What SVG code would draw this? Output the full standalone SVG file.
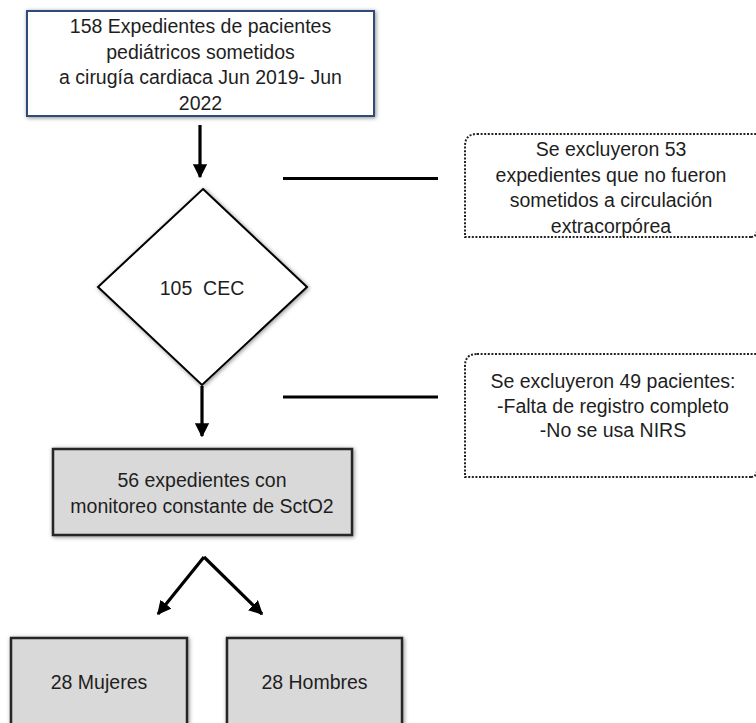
<svg xmlns="http://www.w3.org/2000/svg" width="756" height="723" viewBox="0 0 756 723">
<style>
text{font-family:"Liberation Sans",Arial,sans-serif;font-size:19.5px;fill:#1e1e1e;text-anchor:middle}
.conn{stroke:#000;stroke-width:3.2;fill:none}
.gray{fill:#D9D9D9;stroke:#262626;stroke-width:2.5}
.dot{fill:none;stroke:#222;stroke-width:2;stroke-dasharray:2 1.6}
</style>
<defs>
<filter id="sh" x="-10%" y="-10%" width="120%" height="120%">
<feDropShadow dx="1" dy="1" stdDeviation="2" flood-color="#000" flood-opacity="0.45"/>
</filter>
<marker id="ah" viewBox="0 0 10 10" refX="9" refY="5" markerWidth="4.4" markerHeight="4.4" markerUnits="strokeWidth" orient="auto">
<path d="M0,0 L10,5 L0,10 Z" fill="#000"/>
</marker>
</defs>
<rect width="756" height="723" fill="#fff"/>
<g id="connectors">
<line class="conn" x1="200" y1="125" x2="200" y2="177" marker-end="url(#ah)"/>
<line class="conn" x1="202" y1="386" x2="202" y2="436" marker-end="url(#ah)"/>
<line class="conn" x1="204" y1="557" x2="158" y2="614" marker-end="url(#ah)"/>
<line class="conn" x1="204" y1="557" x2="262" y2="614" marker-end="url(#ah)"/>
<line class="conn" x1="283" y1="178.5" x2="438" y2="178.5"/>
<line class="conn" x1="283" y1="397" x2="438" y2="397"/>
</g>
<g id="n_total">
<rect x="27" y="11" width="347" height="105" fill="#fff" stroke="#2F4B7C" stroke-width="2" filter="url(#sh)"/>
<text x="200.5" y="33">158 Expedientes de pacientes</text>
<text x="200.5" y="58.7">pediátricos sometidos</text>
<text x="200.5" y="84.3">a cirugía cardiaca Jun 2019- Jun</text>
<text x="200.5" y="110">2022</text>
</g>
<g id="n_cec">
<polygon points="203,189 307,287 202,385 98,287" fill="#fff" stroke="#000" stroke-width="2" filter="url(#sh)"/>
<text x="202" y="295" xml:space="preserve">105  CEC</text>
</g>
<g id="n_excl1">
<path class="dot" d="M477,134 H760 M751,237 Q756,237 757,231 M751,237 H465 V146 Q465,134 477,134"/>
<text x="611" y="156">Se excluyeron 53</text>
<text x="611" y="181.7">expedientes que no fueron</text>
<text x="611" y="207.3">sometidos a circulación</text>
<text x="611" y="233">extracorpórea</text>
</g>
<g id="n_excl2">
<path class="dot" d="M477,354 H760 M751,477 Q756,477 757,471 M751,477 H465 V366 Q465,354 477,354"/>
<text x="613" y="388">Se excluyeron 49 pacientes:</text>
<text x="613" y="412.5">-Falta de registro completo</text>
<text x="613" y="437">-No se usa NIRS</text>
</g>
<g id="n_sct">
<rect class="gray" x="53" y="449" width="299" height="86" filter="url(#sh)"/>
<text x="202" y="487">56 expedientes con</text>
<text x="202" y="513">monitoreo constante de SctO2</text>
</g>
<g id="n_mujeres">
<rect class="gray" x="11" y="638" width="176" height="100" filter="url(#sh)"/>
<text x="99" y="689">28 Mujeres</text>
</g>
<g id="n_hombres">
<rect class="gray" x="227" y="638" width="175" height="100" filter="url(#sh)"/>
<text x="314.5" y="689">28 Hombres</text>
</g>
</svg>
